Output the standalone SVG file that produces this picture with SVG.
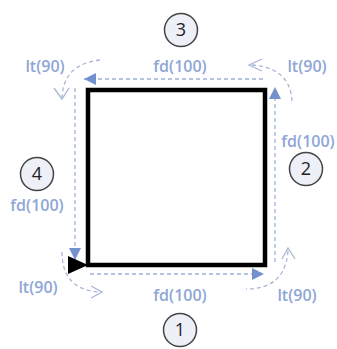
<svg xmlns="http://www.w3.org/2000/svg" width="337" height="349" viewBox="0 0 337 349">
<defs>
<marker id="solid" viewBox="0 0 10 10" refX="10" refY="5" markerWidth="12" markerHeight="12" markerUnits="userSpaceOnUse" orient="auto">
<path d="M0,0 L10,5 L0,10 Z" fill="#7391CC"/>
</marker>
</defs>
<style>
.lbl{font-family:"Open Sans",sans-serif;font-weight:600;font-size:16px;fill:#8EA6D6;text-anchor:middle}
.num{font-family:"Open Sans",sans-serif;font-size:18px;fill:#222;text-anchor:middle}
.circ{fill:#EEF0F8;stroke:#444;stroke-width:1.5}
.move{fill:none;stroke:#9CB2DC;stroke-width:1.3;stroke-dasharray:4 3}
.turn{fill:none;stroke:#A8B6D6;stroke-width:1.3;stroke-dasharray:4 3}
.vee{fill:none;stroke:#A8B6D6;stroke-width:1.3}
</style>
<rect width="337" height="349" fill="#fff"/>
<g id="connectors">
<path class="move" d="M90,274 H264" marker-end="url(#solid)"/>
<path class="move" d="M275,262 V87" marker-end="url(#solid)"/>
<path class="move" d="M263,79 H84" marker-end="url(#solid)"/>
<path class="move" d="M75,88 V260" marker-end="url(#solid)"/>
<path class="turn" d="M100,60 Q64,64 62,97"/>
<path class="vee" d="M54,88 L62,99 L69,88"/>
<path class="turn" d="M252,65 Q292,68 292,104"/>
<path class="vee" d="M262,59 L249,65 L262,71"/>
<path class="turn" d="M288,251 Q285,289 246,289"/>
<path class="vee" d="M282,259 L288,248 L295,259"/>
<path class="turn" d="M62,252 Q62,290 100,292"/>
<path class="vee" d="M91,286 L102,292 L91,298"/>
</g>
<g id="square">
<rect x="88" y="90" width="177" height="175" fill="none" stroke="#000" stroke-width="4.5"/>
</g>
<g id="turtle">
<polygon points="68,256 88,265 68,274" fill="#000"/>
</g>
<g id="labels">
<text class="lbl" x="45" y="72">lt(90)</text>
<text class="lbl" x="180" y="72">fd(100)</text>
<text class="lbl" x="307" y="72">lt(90)</text>
<text class="lbl" x="308" y="147">fd(100)</text>
<text class="lbl" x="37" y="211">fd(100)</text>
<text class="lbl" x="38" y="293">lt(90)</text>
<text class="lbl" x="180" y="301">fd(100)</text>
<text class="lbl" x="297" y="301">lt(90)</text>
</g>
<g id="step1"><circle class="circ" cx="180" cy="330" r="16.5"/><text class="num" x="180" y="336">1</text></g>
<g id="step2"><circle class="circ" cx="306" cy="169" r="16.5"/><text class="num" x="306" y="175">2</text></g>
<g id="step3"><circle class="circ" cx="181" cy="30" r="16.5"/><text class="num" x="181" y="36">3</text></g>
<g id="step4"><circle class="circ" cx="37" cy="174" r="16.5"/><text class="num" x="37" y="180">4</text></g>
</svg>
